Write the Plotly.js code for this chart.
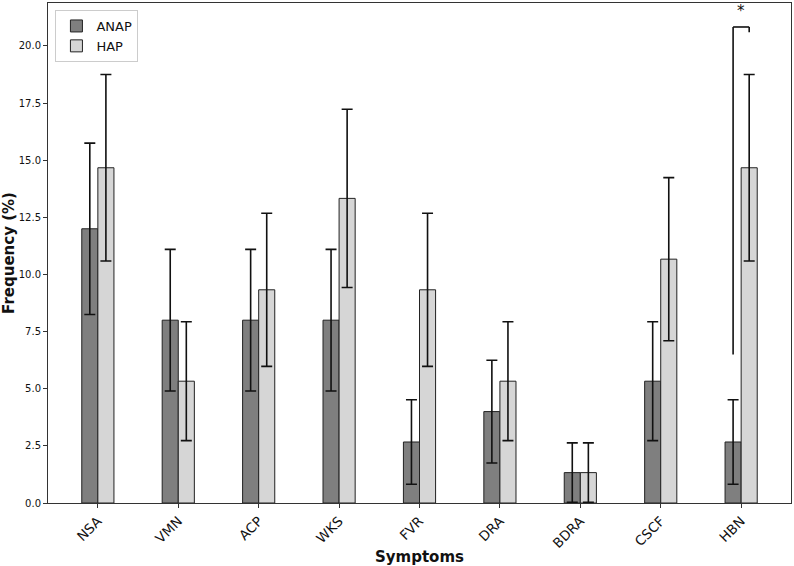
<!DOCTYPE html>
<html>
<head>
<meta charset="utf-8">
<script src="https://cdn.plot.ly/plotly-3.0.1.min.js"></script>
<style>html,body{margin:0;padding:0;background:#fff;}#chart{width:794px;height:566px;}</style>
</head>
<body>
<div id="chart"></div>
<script>
const categories = ["NSA","VMN","ACP","WKS","FVR","DRA","BDRA","CSCF","HBN"];
const anapValues = [12.0, 8.0, 8.0, 8.0, 2.67, 4.0, 1.33, 5.33, 2.67];
const anapErrors = [3.75, 3.1, 3.1, 3.1, 1.85, 2.25, 1.3, 2.6, 1.85];
const hapValues  = [14.67, 5.33, 9.33, 13.33, 9.33, 5.33, 1.33, 10.67, 14.67];
const hapErrors  = [4.08, 2.6, 3.35, 3.9, 3.35, 2.6, 1.3, 3.57, 4.08];
const yTickVals = [0, 2.5, 5, 7.5, 10, 12.5, 15, 17.5, 20];
const yTickText = ["0.0","2.5","5.0","7.5","10.0","12.5","15.0","17.5","20.0"];
// significance bracket: category, left bottom, top, right bottom
const sigCategory = "HBN";
const sigLevels = [6.5, 20.83, 20.6];
const sigLabel = "*";

const font = "DejaVu Sans, Verdana, sans-serif";
const errStyle = {type:"data", visible:true, color:"#111", thickness:1.6, width:5.5};

const traces = [
  {type:"bar", name:"ANAP", x:categories, y:anapValues,
   marker:{color:"#7f7f7f", line:{color:"#222", width:1}},
   error_y:Object.assign({array:anapErrors}, errStyle)},
  {type:"bar", name:"HAP", x:categories, y:hapValues,
   marker:{color:"#d6d6d6", line:{color:"#222", width:1}},
   error_y:Object.assign({array:hapErrors}, errStyle)}
];

const si = categories.indexOf(sigCategory);
const off = 0.1;
const shapes = [
  {type:"line", xref:"x", yref:"y", x0:si-off, x1:si-off, y0:sigLevels[0], y1:sigLevels[1], line:{color:"#111", width:1.6}},
  {type:"line", xref:"x", yref:"y", x0:si-off, x1:si+off, y0:sigLevels[1], y1:sigLevels[1], line:{color:"#111", width:1.6}},
  {type:"line", xref:"x", yref:"y", x0:si+off, x1:si+off, y0:sigLevels[1], y1:sigLevels[2], line:{color:"#111", width:1.6}}
];

const layout = {
  width:794, height:566,
  margin:{l:48, r:3, t:3, b:63},
  paper_bgcolor:"#fff", plot_bgcolor:"#fff",
  font:{family:font, color:"#111"},
  barmode:"group", bargap:0.6, bargroupgap:0,
  showlegend:true,
  legend:{x:0.01, y:0.986, xanchor:"left", yanchor:"top",
    bgcolor:"rgba(255,255,255,0.9)", bordercolor:"#cccccc", borderwidth:1,
    font:{family:font, size:13, color:"#111"}, tracegroupgap:2},
  xaxis:{type:"category", range:[-0.62, 8.62], tickangle:-45,
    tickfont:{family:font, size:13.5, color:"#111"},
    ticks:"outside", ticklen:4, tickcolor:"#333",
    showline:true, linecolor:"#333", linewidth:1, mirror:true,
    showgrid:false, zeroline:false, automargin:false,
    title:{text:"<b>Symptoms</b>", font:{family:font, size:15, color:"#111"}, standoff:4}},
  yaxis:{range:[0, 21.88], tickvals:yTickVals, ticktext:yTickText,
    tickfont:{family:font, size:10, color:"#111"},
    ticks:"outside", ticklen:4, tickcolor:"#333",
    showline:true, linecolor:"#333", linewidth:1, mirror:true,
    showgrid:false, zeroline:false, automargin:false,
    title:{text:"<b>Frequency (%)</b>", font:{family:font, size:15, color:"#111"}, standoff:6}},
  shapes:shapes,
  annotations:[{xref:"x", yref:"y", x:si, y:sigLevels[1], text:sigLabel, showarrow:false,
    yanchor:"bottom", yshift:5, font:{family:font, size:15, color:"#111"}}]
};

Plotly.newPlot("chart", traces, layout, {displayModeBar:false, staticPlot:true});
</script>
</body>
</html>
